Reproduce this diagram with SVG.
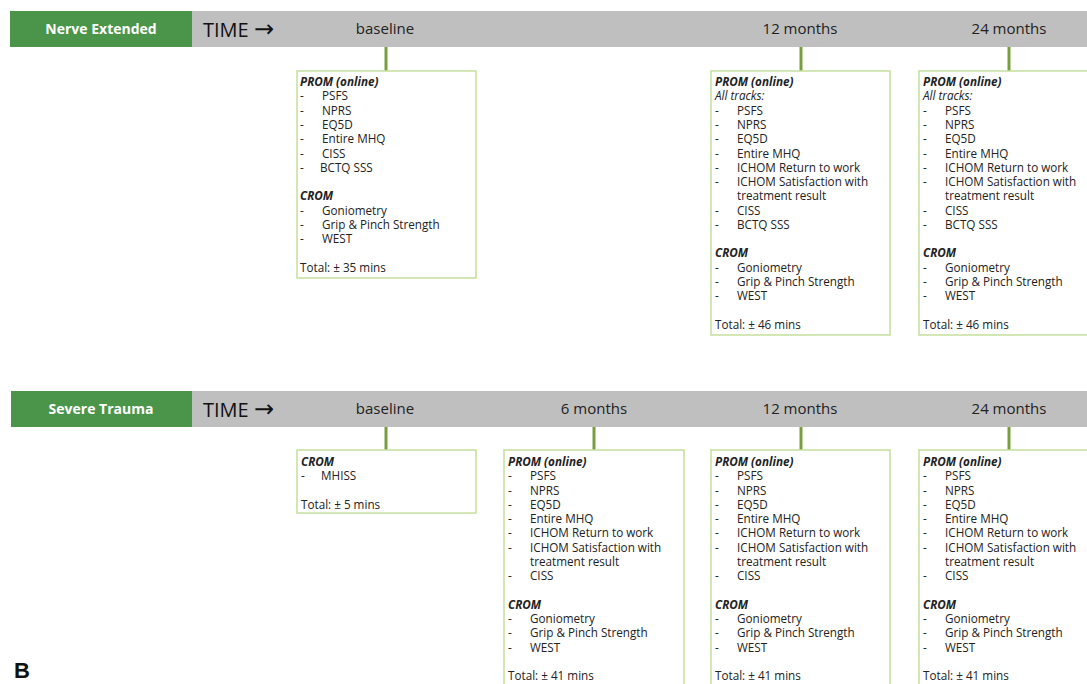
<svg xmlns="http://www.w3.org/2000/svg" width="1087" height="684" viewBox="0 0 1087 684">
<style>
.bar{fill:#bfbfbf}
.tag{fill:#4a954a}
.tagt{font-family:"Open Sans",sans-serif;font-weight:bold;font-size:14px;fill:#fff;text-anchor:middle}
.time{font-family:"Open Sans",sans-serif;font-size:20px;fill:#111}
.arr{font-family:"DejaVu Sans",sans-serif;font-size:24px}
.hd{font-family:"Open Sans",sans-serif;font-size:15px;fill:#222;text-anchor:middle}
.box{fill:#fff;stroke:#c4df9b;stroke-width:1.5}
.conn{stroke:#77a03c;stroke-width:3}
.t{font-family:"Open Sans",sans-serif;font-size:11.7px;fill:#222}
.b{font-weight:bold;font-style:italic}
.i{font-style:italic}
</style>
<g id="header-nerve">
<rect class="bar" x="192" y="11" width="895" height="36"/>
<rect class="tag" x="10" y="11" width="182" height="36"/>
<text class="tagt" x="101" y="34">Nerve Extended</text>
<text class="time" x="203" y="37">TIME <tspan class="arr">→</tspan></text>
<text class="hd" x="385" y="34">baseline</text>
<text class="hd" x="800" y="34">12 months</text>
<text class="hd" x="1009" y="34">24 months</text>
</g>
<g id="header-trauma">
<rect class="bar" x="192" y="391" width="895" height="36"/>
<rect class="tag" x="11" y="391" width="181" height="36"/>
<text class="tagt" x="101" y="414">Severe Trauma</text>
<text class="time" x="203" y="417">TIME <tspan class="arr">→</tspan></text>
<text class="hd" x="385" y="414">baseline</text>
<text class="hd" x="594" y="414">6 months</text>
<text class="hd" x="800" y="414">12 months</text>
<text class="hd" x="1009" y="414">24 months</text>
</g>
<g id="connectors">
<line class="conn" x1="386" y1="47" x2="386" y2="71"/>
<line class="conn" x1="801" y1="47" x2="801" y2="71"/>
<line class="conn" x1="1009" y1="47" x2="1009" y2="71"/>
<line class="conn" x1="386" y1="427" x2="386" y2="450"/>
<line class="conn" x1="594" y1="427" x2="594" y2="450"/>
<line class="conn" x1="801" y1="427" x2="801" y2="450"/>
<line class="conn" x1="1009" y1="427" x2="1009" y2="450"/>
</g>
<g id="ne-baseline">
<rect class="box" x="297" y="71" width="179" height="207"/>
<g class="t">
<text x="300" y="86" class="b">PROM (online)</text>
<text x="300" y="100">-</text><text x="322" y="100">PSFS</text>
<text x="300" y="115">-</text><text x="322" y="115">NPRS</text>
<text x="300" y="129">-</text><text x="322" y="129">EQ5D</text>
<text x="300" y="143">-</text><text x="322" y="143">Entire MHQ</text>
<text x="300" y="158">-</text><text x="322" y="158">CISS</text>
<text x="300" y="172">-</text><text x="320" y="172">BCTQ SSS</text>
<text x="300" y="200" class="b">CROM</text>
<text x="300" y="215">-</text><text x="322" y="215">Goniometry</text>
<text x="300" y="229">-</text><text x="322" y="229">Grip &amp; Pinch Strength</text>
<text x="300" y="243">-</text><text x="322" y="243">WEST</text>
<text x="300" y="272">Total: ± 35 mins</text>
</g>
</g>
<g id="ne-12m">
<rect class="box" x="711" y="71" width="179" height="264"/>
<g class="t">
<text x="715" y="86" class="b">PROM (online)</text>
<text x="715" y="100" class="i">All tracks:</text>
<text x="715" y="115">-</text><text x="737" y="115">PSFS</text>
<text x="715" y="129">-</text><text x="737" y="129">NPRS</text>
<text x="715" y="143">-</text><text x="737" y="143">EQ5D</text>
<text x="715" y="158">-</text><text x="737" y="158">Entire MHQ</text>
<text x="715" y="172">-</text><text x="737" y="172">ICHOM Return to work</text>
<text x="715" y="186">-</text><text x="737" y="186">ICHOM Satisfaction with</text>
<text x="737" y="200">treatment result</text>
<text x="715" y="215">-</text><text x="737" y="215">CISS</text>
<text x="715" y="229">-</text><text x="737" y="229">BCTQ SSS</text>
<text x="715" y="257" class="b">CROM</text>
<text x="715" y="272">-</text><text x="737" y="272">Goniometry</text>
<text x="715" y="286">-</text><text x="737" y="286">Grip &amp; Pinch Strength</text>
<text x="715" y="300">-</text><text x="737" y="300">WEST</text>
<text x="715" y="329">Total: ± 46 mins</text>
</g>
</g>
<g id="ne-24m">
<rect class="box" x="919" y="71" width="180" height="264"/>
<g class="t">
<text x="923" y="86" class="b">PROM (online)</text>
<text x="923" y="100" class="i">All tracks:</text>
<text x="923" y="115">-</text><text x="945" y="115">PSFS</text>
<text x="923" y="129">-</text><text x="945" y="129">NPRS</text>
<text x="923" y="143">-</text><text x="945" y="143">EQ5D</text>
<text x="923" y="158">-</text><text x="945" y="158">Entire MHQ</text>
<text x="923" y="172">-</text><text x="945" y="172">ICHOM Return to work</text>
<text x="923" y="186">-</text><text x="945" y="186">ICHOM Satisfaction with</text>
<text x="945" y="200">treatment result</text>
<text x="923" y="215">-</text><text x="945" y="215">CISS</text>
<text x="923" y="229">-</text><text x="945" y="229">BCTQ SSS</text>
<text x="923" y="257" class="b">CROM</text>
<text x="923" y="272">-</text><text x="945" y="272">Goniometry</text>
<text x="923" y="286">-</text><text x="945" y="286">Grip &amp; Pinch Strength</text>
<text x="923" y="300">-</text><text x="945" y="300">WEST</text>
<text x="923" y="329">Total: ± 46 mins</text>
</g>
</g>
<g id="st-baseline">
<rect class="box" x="297" y="450" width="179" height="63"/>
<g class="t">
<text x="301" y="466" class="b">CROM</text>
<text x="301" y="480">-</text><text x="321" y="480">MHISS</text>
<text x="301" y="509">Total: ± 5 mins</text>
</g>
</g>
<g id="st-6m">
<rect class="box" x="504" y="450" width="180" height="250"/>
<g class="t">
<text x="508" y="466" class="b">PROM (online)</text>
<text x="508" y="480">-</text><text x="530" y="480">PSFS</text>
<text x="508" y="495">-</text><text x="530" y="495">NPRS</text>
<text x="508" y="509">-</text><text x="530" y="509">EQ5D</text>
<text x="508" y="523">-</text><text x="530" y="523">Entire MHQ</text>
<text x="508" y="537">-</text><text x="530" y="537">ICHOM Return to work</text>
<text x="508" y="552">-</text><text x="530" y="552">ICHOM Satisfaction with</text>
<text x="530" y="566">treatment result</text>
<text x="508" y="580">-</text><text x="530" y="580">CISS</text>
<text x="508" y="609" class="b">CROM</text>
<text x="508" y="623">-</text><text x="530" y="623">Goniometry</text>
<text x="508" y="637">-</text><text x="530" y="637">Grip &amp; Pinch Strength</text>
<text x="508" y="652">-</text><text x="530" y="652">WEST</text>
<text x="508" y="680">Total: ± 41 mins</text>
</g>
</g>
<g id="st-12m">
<rect class="box" x="711" y="450" width="179" height="250"/>
<g class="t">
<text x="715" y="466" class="b">PROM (online)</text>
<text x="715" y="480">-</text><text x="737" y="480">PSFS</text>
<text x="715" y="495">-</text><text x="737" y="495">NPRS</text>
<text x="715" y="509">-</text><text x="737" y="509">EQ5D</text>
<text x="715" y="523">-</text><text x="737" y="523">Entire MHQ</text>
<text x="715" y="537">-</text><text x="737" y="537">ICHOM Return to work</text>
<text x="715" y="552">-</text><text x="737" y="552">ICHOM Satisfaction with</text>
<text x="737" y="566">treatment result</text>
<text x="715" y="580">-</text><text x="737" y="580">CISS</text>
<text x="715" y="609" class="b">CROM</text>
<text x="715" y="623">-</text><text x="737" y="623">Goniometry</text>
<text x="715" y="637">-</text><text x="737" y="637">Grip &amp; Pinch Strength</text>
<text x="715" y="652">-</text><text x="737" y="652">WEST</text>
<text x="715" y="680">Total: ± 41 mins</text>
</g>
</g>
<g id="st-24m">
<rect class="box" x="919" y="450" width="180" height="250"/>
<g class="t">
<text x="923" y="466" class="b">PROM (online)</text>
<text x="923" y="480">-</text><text x="945" y="480">PSFS</text>
<text x="923" y="495">-</text><text x="945" y="495">NPRS</text>
<text x="923" y="509">-</text><text x="945" y="509">EQ5D</text>
<text x="923" y="523">-</text><text x="945" y="523">Entire MHQ</text>
<text x="923" y="537">-</text><text x="945" y="537">ICHOM Return to work</text>
<text x="923" y="552">-</text><text x="945" y="552">ICHOM Satisfaction with</text>
<text x="945" y="566">treatment result</text>
<text x="923" y="580">-</text><text x="945" y="580">CISS</text>
<text x="923" y="609" class="b">CROM</text>
<text x="923" y="623">-</text><text x="945" y="623">Goniometry</text>
<text x="923" y="637">-</text><text x="945" y="637">Grip &amp; Pinch Strength</text>
<text x="923" y="652">-</text><text x="945" y="652">WEST</text>
<text x="923" y="680">Total: ± 41 mins</text>
</g>
</g>
<text x="14" y="678" font-family="Liberation Sans, Arial, sans-serif" font-weight="bold" font-size="22" fill="#111">B</text>
</svg>
